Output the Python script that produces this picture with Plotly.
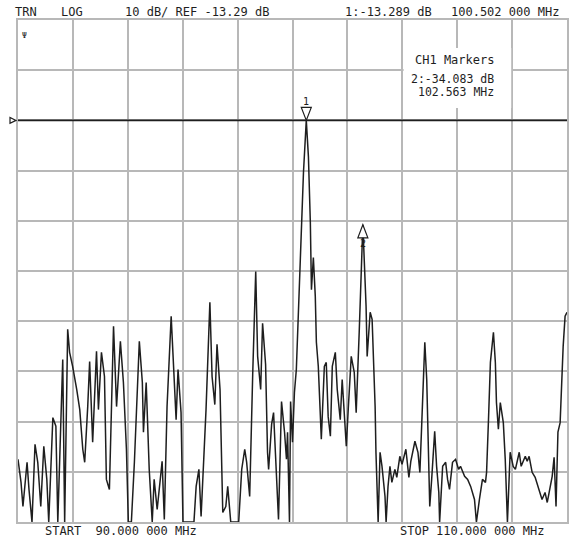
import plotly.graph_objects as go

# Sweep readings: frequency (MHz) and transmission level (dB)
freq_mhz = [
    90.00, 90.11, 90.18, 90.33, 90.40, 90.51, 90.62, 90.72, 90.83, 90.94,
    91.05, 91.12, 91.27, 91.38, 91.45, 91.63, 91.70, 91.81, 91.88, 91.99,
    92.14, 92.25, 92.36, 92.43, 92.54, 92.61, 92.72, 92.86, 92.93, 93.04,
    93.15, 93.22, 93.33, 93.48, 93.59, 93.73, 93.84, 93.95, 94.02, 94.13,
    94.24, 94.31, 94.42, 94.53, 94.57, 94.67, 94.78, 94.89, 94.96, 95.07,
    95.25, 95.33, 95.43, 95.58, 95.65, 95.76, 95.83, 95.94, 96.01, 96.41,
    96.49, 96.59, 96.67, 96.85, 96.99, 97.07, 97.17, 97.25, 97.36, 97.46,
    97.57, 97.64, 97.75, 98.04, 98.15, 98.26, 98.33, 98.44, 98.55, 98.66,
    98.73, 98.84, 98.91, 99.02, 99.09, 99.13, 99.24, 99.31, 99.38, 99.49,
    99.60, 99.71, 99.78, 99.82, 99.89, 99.93, 100.00, 100.07, 100.14, 100.22,
    100.33, 100.40, 100.502, 100.58, 100.65, 100.69, 100.76, 100.83, 100.87, 100.94,
    101.01, 101.05, 101.16, 101.23, 101.30, 101.38, 101.45, 101.56, 101.63, 101.74,
    101.81, 101.96, 102.03, 102.14, 102.25, 102.32, 102.43, 102.50, 102.563, 102.68,
    102.72, 102.83, 102.90, 103.01, 103.04, 103.12, 103.19, 103.26, 103.37, 103.41,
    103.48, 103.55, 103.62, 103.73, 103.80, 103.91, 103.99, 104.13, 104.24, 104.31,
    104.46, 104.57, 104.64, 104.71, 104.78, 104.82, 104.89, 104.93, 105.00, 105.07,
    105.18, 105.25, 105.33, 105.36, 105.47, 105.58, 105.65, 105.72, 105.83, 105.94,
    106.05, 106.12, 106.27, 106.38, 106.49, 106.63, 106.70, 106.81, 106.92, 107.03,
    107.07, 107.14, 107.21, 107.32, 107.39, 107.43, 107.50, 107.57, 107.68, 107.75,
    107.83, 107.90, 107.93, 108.04, 108.12, 108.26, 108.33, 108.48, 108.55, 108.62,
    108.73, 108.84, 108.95, 109.02, 109.09, 109.20, 109.28, 109.35, 109.46, 109.53,
    109.60, 109.67, 109.75, 109.86, 109.93, 110.00,
]
level_db = [
    -80.8, -85.4, -90.2, -81.4, -86.8, -93.3, -77.8, -81.4, -90.2, -78.2,
    -84.8, -93.3, -72.5, -74.2, -93.3, -60.9, -93.3, -54.9, -59.5, -62.3,
    -66.9, -70.9, -78.8, -81.4, -70.3, -61.3, -77.4, -59.3, -70.9, -59.5,
    -64.3, -84.8, -86.8, -54.3, -70.3, -57.3, -65.5, -78.8, -93.3, -93.3,
    -81.4, -71.5, -57.3, -65.5, -75.4, -65.5, -82.8, -93.3, -84.8, -90.8,
    -81.2, -92.8, -70.3, -52.3, -60.3, -72.9, -62.9, -71.5, -93.3, -93.3,
    -86.2, -82.8, -92.2, -70.9, -49.5, -64.3, -69.9, -57.9, -66.9, -91.4,
    -90.2, -86.2, -93.3, -93.3, -82.8, -78.8, -81.4, -88.2, -63.9, -43.4,
    -60.3, -66.9, -53.7, -61.9, -79.4, -82.8, -73.8, -71.5, -79.8, -92.8,
    -69.3, -75.4, -80.8, -75.4, -93.3, -69.3, -77.4, -67.5, -62.9, -50.3,
    -33.6, -23.6, -13.289, -20.5, -33.6, -47.0, -40.6, -48.3, -57.5, -62.3,
    -71.5, -76.8, -62.3, -61.5, -72.3, -76.2, -62.3, -59.5, -66.9, -72.9,
    -64.9, -78.2, -70.9, -60.3, -63.5, -71.5, -55.5, -44.4, -34.083, -50.3,
    -60.3, -51.5, -52.9, -70.3, -79.4, -93.3, -79.4, -82.2, -88.2, -93.3,
    -86.2, -82.2, -85.4, -82.8, -84.4, -80.2, -81.8, -78.8, -84.4, -81.2,
    -77.2, -79.4, -83.4, -73.5, -60.9, -57.5, -64.9, -74.8, -90.2, -84.8,
    -75.2, -82.2, -87.4, -93.3, -82.2, -81.4, -84.8, -86.8, -81.4, -80.8,
    -82.8, -82.2, -84.2, -84.8, -86.2, -88.8, -93.3, -88.8, -84.8, -85.4,
    -83.4, -72.9, -61.5, -55.5, -61.5, -69.5, -74.8, -69.5, -73.5, -80.8,
    -93.3, -83.4, -79.4, -82.2, -82.8, -79.4, -82.2, -80.2, -81.2, -80.2,
    -83.4, -84.4, -86.2, -87.4, -88.8, -87.4, -89.4, -87.4, -84.2, -80.4,
    -90.2, -75.4, -73.5, -58.3, -52.3, -51.5,
]

# Display settings
start_mhz, stop_mhz = 90.0, 110.0
ref_db = -13.29
db_per_div = 10
ref_div_from_top = 2
n_div = 10
top_db = ref_db + ref_div_from_top * db_per_div
bottom_db = top_db - n_div * db_per_div

# Markers: (label, frequency MHz, level dB, pointing direction)
markers = [("1", 100.502, -13.289, "down"), ("2", 102.563, -34.083, "up")]

W, H = 569, 540
ML, MR, MT, MB = 18, 0, 20, 18
PW, PH = W - ML - MR, H - MT - MB


def px(x):
    return (x - ML) / PW


def py(y):
    return (H - MB - y) / PH


MONO = "DejaVu Sans Mono, Liberation Mono, monospace"
INK = "#1e1e1e"
GRID = "#b8b8b8"

fig = go.Figure()
fig.add_trace(go.Scatter(
    x=freq_mhz, y=level_db, mode="lines",
    line=dict(color=INK, width=1.5), hoverinfo="skip", showlegend=False,
))

shapes = []
# reference level line
shapes.append(dict(type="line", xref="paper", yref="y", x0=0, x1=1,
                   y0=ref_db, y1=ref_db, line=dict(color=INK, width=1.6),
                   layer="above"))
# reference position flag on the left edge
shapes.append(dict(type="path", xref="paper", yref="y",
                   xsizemode="pixel", ysizemode="pixel",
                   xanchor=0, yanchor=ref_db,
                   path="M -8 -3 L -8 3 L -2 0 Z",
                   line=dict(color=INK, width=1.2), fillcolor="white",
                   layer="above"))

annotations = []
for label, f, lv, d in markers:
    if d == "down":
        path = "M 0 0 L -5 13 L 5 13 Z"
        ty = 11
        yanchor = "bottom"
    else:
        path = "M 0 0 L -5 -13 L 5 -13 Z"
        ty = -11
        yanchor = "top"
    shapes.append(dict(type="path", xref="x", yref="y",
                       xsizemode="pixel", ysizemode="pixel",
                       xanchor=f, yanchor=lv, path=path,
                       line=dict(color=INK, width=1.2), fillcolor="white",
                       layer="above"))
    annotations.append(dict(x=f, y=lv, xref="x", yref="y", text=label,
                            showarrow=False, yshift=ty, yanchor=yanchor,
                            xanchor="center",
                            font=dict(family=MONO, size=10, color=INK)))

# marker readout box
shapes.append(dict(type="rect", xref="paper", yref="paper",
                   x0=px(405), x1=px(513), y0=py(108), y1=py(48),
                   fillcolor="white", line=dict(width=0), layer="above"))


def text(s, x, y, anchor="left", size=12):
    annotations.append(dict(x=px(x), y=py(y), xref="paper", yref="paper",
                            text=s, showarrow=False, xanchor=anchor,
                            yanchor="middle",
                            font=dict(family=MONO, size=size, color=INK)))


text("TRN", 13, 12)
text("LOG", 59, 12)
text("10 dB/ REF -13.29 dB", 123, 12)
text("1:-13.289 dB", 344, 12)
text("100.502 000 MHz", 451, 12)
text("START  90.000 000 MHz", 43, 531)
text("STOP 110.000 000 MHz", 399, 531)
text("CH1 Markers", 498, 60, "right")
text("2:-34.083 dB", 498, 79, "right", 11.5)
text("102.563 MHz", 498, 92, "right", 11.5)
text("Ψ", 20, 36, "left", 8)

fig.update_layout(
    width=W, height=H,
    margin=dict(l=ML, r=MR, t=MT, b=MB),
    paper_bgcolor="white", plot_bgcolor="white",
    shapes=shapes, annotations=annotations,
    xaxis=dict(range=[start_mhz, stop_mhz], tick0=start_mhz,
               dtick=(stop_mhz - start_mhz) / n_div,
               showgrid=True, gridcolor=GRID, gridwidth=2,
               showline=True, linecolor=GRID, linewidth=2, mirror=True,
               zeroline=False, showticklabels=False, ticks=""),
    yaxis=dict(range=[bottom_db, top_db], tick0=ref_db, dtick=db_per_div,
               showgrid=True, gridcolor=GRID, gridwidth=2,
               showline=True, linecolor=GRID, linewidth=2, mirror=True,
               zeroline=False, showticklabels=False, ticks=""),
)

fig.write_html("out.html")
